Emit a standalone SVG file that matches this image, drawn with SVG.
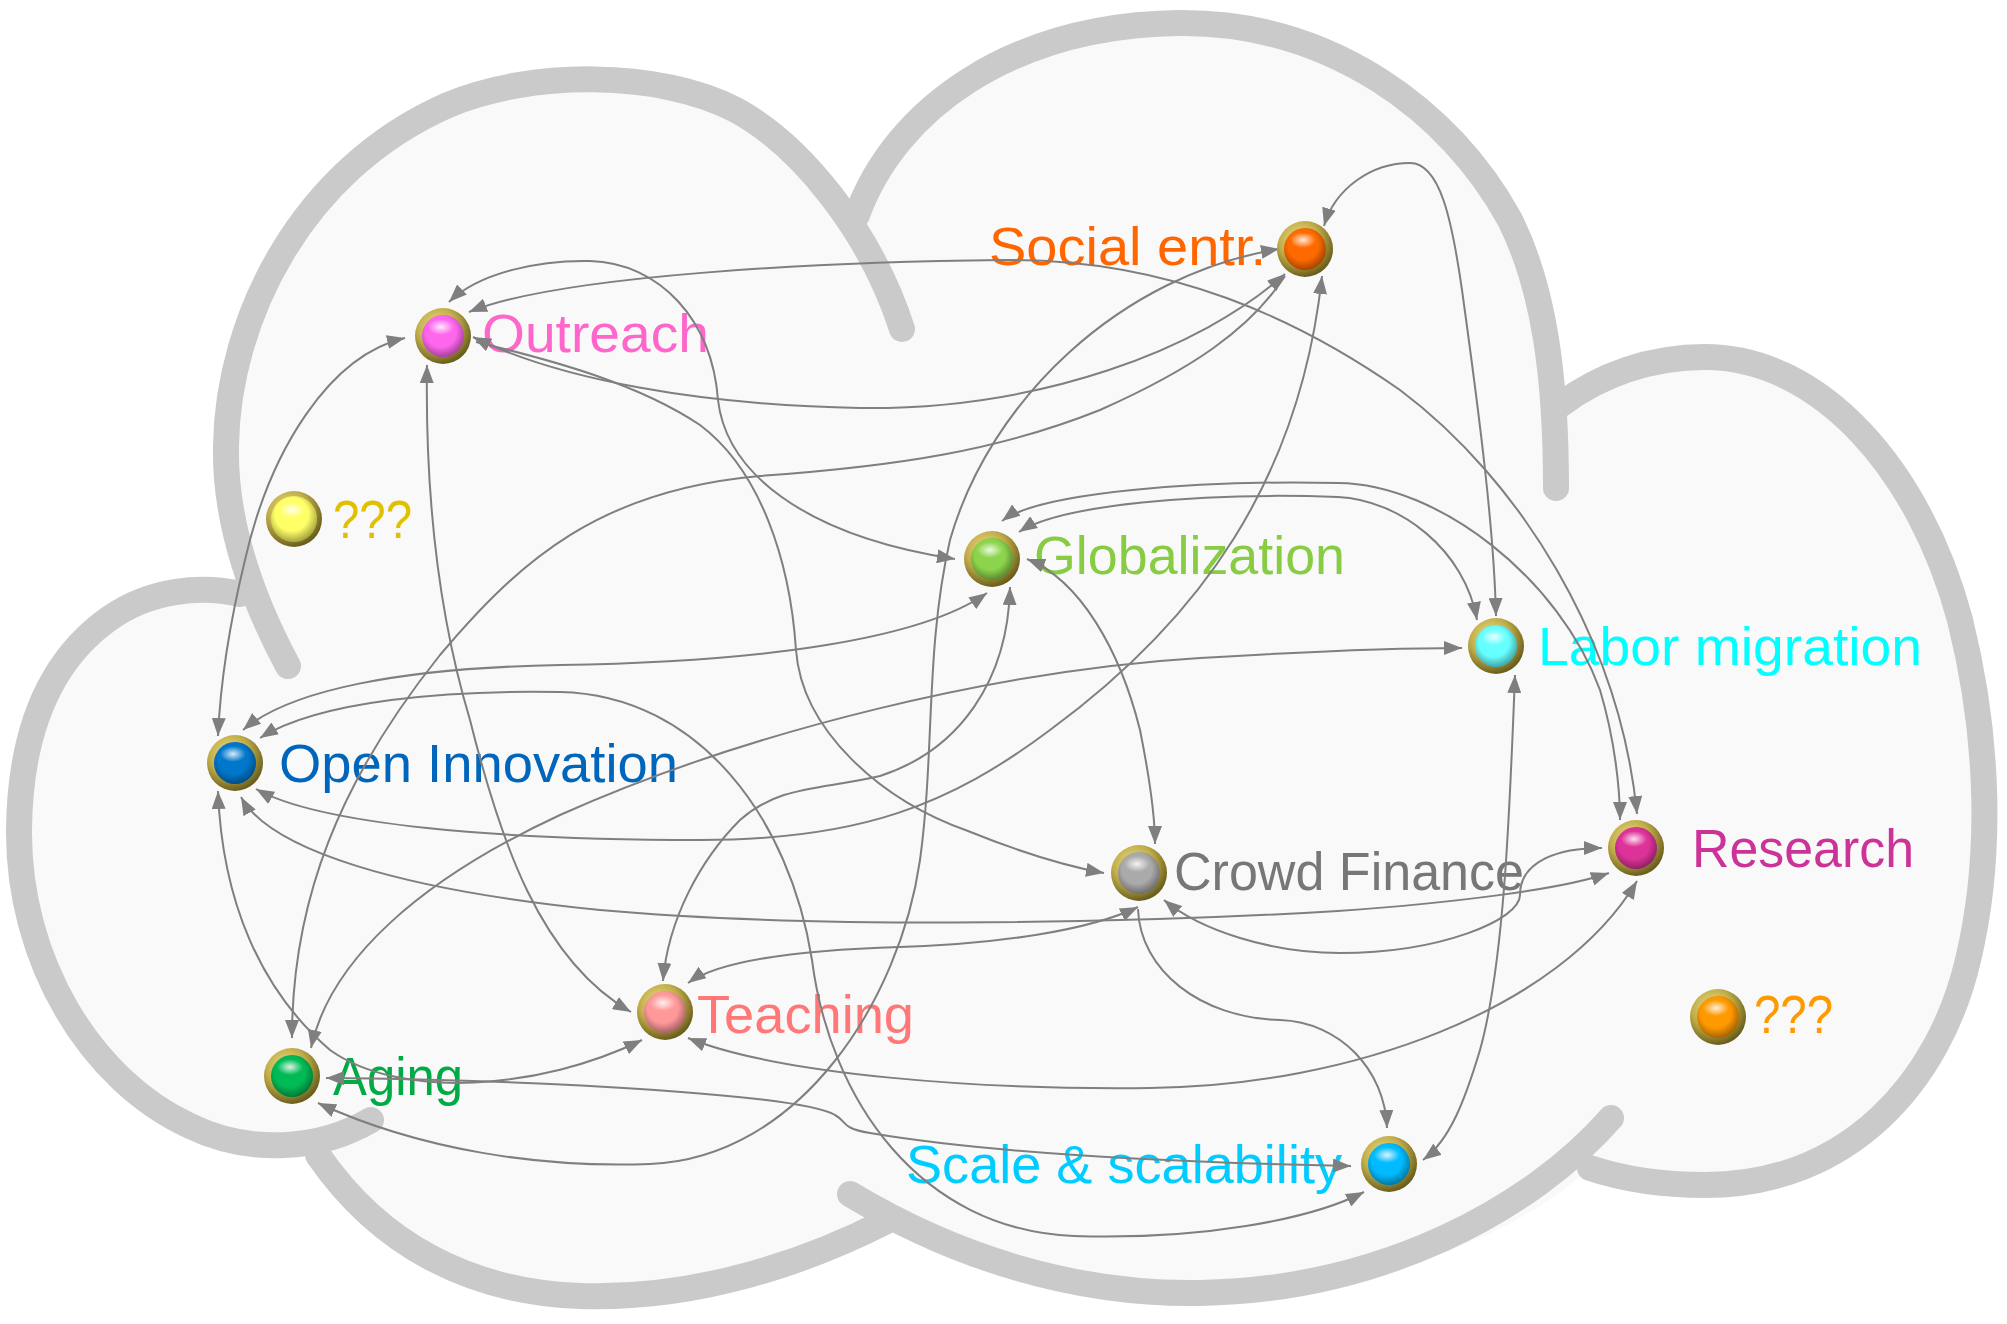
<svg xmlns="http://www.w3.org/2000/svg" width="2007" height="1324" viewBox="0 0 2007 1324">
<style>
.lobe{fill:none;stroke:#cacaca;stroke-width:26;stroke-linecap:round;stroke-linejoin:round}
.edge{fill:none;stroke:#7f7f7f;stroke-width:2}
.ring{fill:url(#ring)}
.shade{fill:url(#shade)}
.hl{fill:url(#hl)}
.lbl{font-family:"Liberation Sans",Arial,sans-serif;font-size:54px}
</style>
<defs>
<marker id="ah" viewBox="0 0 18 14" refX="18" refY="7" markerWidth="18" markerHeight="14" markerUnits="userSpaceOnUse" orient="auto-start-reverse"><path d="M0,0 L18,7 L0,14 z" fill="#7f7f7f"/></marker>
<radialGradient id="ring" cx="40%" cy="35%" r="65%"><stop offset="0" stop-color="#f0e38e"/><stop offset="0.55" stop-color="#c2ae4a"/><stop offset="1" stop-color="#6a5e1c"/></radialGradient>
<radialGradient id="shade" cx="45%" cy="40%" r="60%"><stop offset="0.6" stop-color="#000" stop-opacity="0"/><stop offset="1" stop-color="#000" stop-opacity="0.35"/></radialGradient>
<radialGradient id="hl" cx="50%" cy="50%" r="50%"><stop offset="0" stop-color="#fff" stop-opacity="0.85"/><stop offset="1" stop-color="#fff" stop-opacity="0"/></radialGradient>
</defs>
<rect width="2007" height="1324" fill="#ffffff"/>
<g id="cloud">
<path fill="#f9f9f9" d="M237,593 C 222,520 226,470 226,445 C 228,320 300,170 448,105 C 530,70 660,70 736,110 C 790,140 835,180 857,215 C 895,110 1010,25 1180,23 C 1330,22 1450,110 1510,220 C 1545,290 1556,360 1560,405 C 1600,375 1650,357 1705,357 C 1820,357 1920,470 1960,620 C 1990,740 1992,860 1968,960 C 1940,1080 1850,1185 1705,1185 C 1660,1185 1620,1178 1590,1168 C 1500,1250 1350,1293 1200,1293 C 1080,1295 960,1260 885,1222 C 810,1260 700,1300 580,1296 C 470,1292 380,1245 318,1155 C 280,1160 230,1150 190,1126 C 90,1080 18,960 19,830 C 20,730 50,660 110,618 C 150,590 200,585 237,593 Z"/>
<path class="lobe" d="M288,666 C 258,610 224,530 226,445 C 228,320 300,170 448,105 C 530,70 660,70 736,110 C 800,145 870,230 902,329"/>
<path class="lobe" d="M857,215 C 895,110 1010,25 1180,23 C 1330,22 1450,110 1510,220 C 1545,290 1556,380 1556,488"/>
<path class="lobe" d="M1560,405 C 1600,375 1650,357 1705,357 C 1820,357 1920,470 1960,620 C 1990,740 1992,860 1968,960 C 1940,1080 1850,1185 1705,1185 C 1660,1185 1620,1178 1590,1168"/>
<path class="lobe" d="M850,1194 C 960,1260 1080,1295 1200,1293 C 1380,1290 1530,1210 1611,1118"/>
<path class="lobe" d="M318,1155 C 380,1245 470,1292 580,1296 C 700,1300 810,1260 885,1222"/>
<path class="lobe" d="M240,594 C 200,585 150,590 110,618 C 50,660 20,730 19,830 C 18,960 90,1080 190,1126 C 250,1155 320,1150 371,1120"/>
</g>
<g id="labels">
<text class="lbl" x="989" y="265" fill="#ff6600" textLength="277" lengthAdjust="spacingAndGlyphs">Social entr.</text>
<text class="lbl" x="482" y="352" fill="#ff66cc" textLength="227" lengthAdjust="spacingAndGlyphs">Outreach</text>
<text class="lbl" x="333" y="538" fill="#e0c000" textLength="79" lengthAdjust="spacingAndGlyphs">???</text>
<text class="lbl" x="1034" y="574" fill="#88cc44" textLength="311" lengthAdjust="spacingAndGlyphs">Globalization</text>
<text class="lbl" x="1538" y="665" fill="#00ffff" textLength="384" lengthAdjust="spacingAndGlyphs">Labor migration</text>
<text class="lbl" x="279" y="782" fill="#0066bb" textLength="399" lengthAdjust="spacingAndGlyphs">Open Innovation</text>
<text class="lbl" x="1174" y="890" fill="#777777" textLength="350" lengthAdjust="spacingAndGlyphs">Crowd Finance</text>
<text class="lbl" x="1692" y="867" fill="#cc3399" textLength="222" lengthAdjust="spacingAndGlyphs">Research</text>
<text class="lbl" x="697" y="1033" fill="#ff7777" textLength="217" lengthAdjust="spacingAndGlyphs">Teaching</text>
<text class="lbl" x="333" y="1095" fill="#00aa44" textLength="130" lengthAdjust="spacingAndGlyphs">Aging</text>
<text class="lbl" x="906" y="1183" fill="#00ccff" textLength="436" lengthAdjust="spacingAndGlyphs">Scale &amp; scalability</text>
<text class="lbl" x="1754" y="1033" fill="#ff9900" textLength="79" lengthAdjust="spacingAndGlyphs">???</text>
</g>
<g id="connectors">
<path class="edge" marker-start="url(#ah)" marker-end="url(#ah)" d="M1324,226 C 1335,188 1372,163 1410,163 C 1440,163 1452,220 1462,290 C 1480,420 1494,530 1496,616"/>
<path class="edge" marker-start="url(#ah)" marker-end="url(#ah)" d="M469,312 C 560,275 820,262 1003,260 C 1170,258 1300,320 1400,390 C 1520,480 1620,640 1637,814"/>
<path class="edge" marker-start="url(#ah)" marker-end="url(#ah)" d="M449,302 C 480,272 540,260 590,261 C 660,263 712,320 718,400 C 726,470 800,535 955,559"/>
<path class="edge" marker-start="url(#ah)" marker-end="url(#ah)" d="M473,337 C 560,380 700,405 860,408 C 1040,410 1200,350 1285,274"/>
<path class="edge" marker-end="url(#ah)" d="M476,342 C 560,362 640,385 700,425 C 760,470 790,560 796,650 C 802,730 880,800 968,831 C 1010,848 1060,865 1104,873"/>
<path class="edge" marker-start="url(#ah)" marker-end="url(#ah)" d="M405,338 C 330,355 270,450 245,560 C 228,630 220,690 218,736"/>
<path class="edge" marker-start="url(#ah)" marker-end="url(#ah)" d="M427,365 C 425,500 440,620 470,720 C 500,840 540,960 631,1012"/>
<path class="edge" marker-start="url(#ah)" marker-end="url(#ah)" d="M243,730 C 290,690 400,668 560,665 C 760,662 920,640 987,593"/>
<path class="edge" marker-start="url(#ah)" marker-end="url(#ah)" d="M260,738 C 320,700 450,690 560,692 C 700,695 790,820 812,960 C 830,1100 920,1230 1074,1236 C 1200,1240 1310,1220 1364,1192"/>
<path class="edge" marker-start="url(#ah)" marker-end="url(#ah)" d="M256,789 C 320,825 500,840 700,840 C 860,840 950,805 1050,730 C 1200,620 1300,480 1322,276"/>
<path class="edge" marker-start="url(#ah)" marker-end="url(#ah)" d="M241,797 C 270,850 400,890 600,910 C 800,928 1100,925 1338,911 C 1450,903 1560,890 1609,873"/>
<path class="edge" marker-start="url(#ah)" marker-end="url(#ah)" d="M218,791 C 222,900 260,990 330,1050 C 400,1100 540,1090 642,1040"/>
<path class="edge" marker-start="url(#ah)" marker-end="url(#ah)" d="M326,1078 C 550,1080 800,1095 835,1115 C 848,1122 840,1128 870,1133 C 1000,1155 1200,1163 1351,1166"/>
<path class="edge" marker-start="url(#ah)" marker-end="url(#ah)" d="M318,1103 C 420,1150 540,1168 650,1164 C 800,1158 900,1000 920,860 C 935,750 925,650 950,540 C 990,400 1120,275 1279,249"/>
<path class="edge" marker-start="url(#ah)" d="M292,1038 C 292,900 340,780 440,655 C 520,560 600,490 760,476 C 900,466 1000,450 1100,410 C 1190,370 1250,330 1285,276"/>
<path class="edge" marker-start="url(#ah)" marker-end="url(#ah)" d="M311,1048 C 330,960 420,880 560,815 C 750,730 1000,670 1200,658 C 1300,652 1400,648 1462,648"/>
<path class="edge" marker-start="url(#ah)" marker-end="url(#ah)" d="M1019,532 C 1060,505 1200,492 1338,497 C 1400,500 1465,550 1477,620"/>
<path class="edge" marker-start="url(#ah)" marker-end="url(#ah)" d="M1002,521 C 1040,492 1200,480 1338,483 C 1440,484 1560,580 1600,690 C 1615,740 1620,790 1620,820"/>
<path class="edge" marker-start="url(#ah)" marker-end="url(#ah)" d="M1027,559 C 1080,580 1120,650 1140,730 C 1150,780 1155,820 1155,844"/>
<path class="edge" marker-start="url(#ah)" marker-end="url(#ah)" d="M1010,587 C 1008,680 960,750 880,776 C 820,790 780,785 740,820 C 700,860 668,920 663,981"/>
<path class="edge" marker-start="url(#ah)" marker-end="url(#ah)" d="M688,983 C 720,960 800,950 900,947 C 1000,944 1090,930 1138,907"/>
<path class="edge" marker-start="url(#ah)" marker-end="url(#ah)" d="M688,1038 C 780,1075 980,1090 1150,1088 C 1350,1086 1560,1010 1637,881"/>
<path class="edge" marker-start="url(#ah)" marker-end="url(#ah)" d="M1164,900 C 1200,930 1270,953 1340,953 C 1440,953 1520,920 1520,895 C 1520,860 1560,848 1602,848"/>
<path class="edge" marker-end="url(#ah)" d="M1138,909 C 1140,970 1200,1018 1280,1020 C 1340,1022 1385,1070 1387,1128"/>
<path class="edge" marker-start="url(#ah)" marker-end="url(#ah)" d="M1515,675 C 1510,800 1505,960 1480,1050 C 1465,1100 1450,1140 1423,1160"/>
</g>
<g id="node-social" transform="translate(1305,249)"><circle class="ring" r="28"/><circle r="21" fill="#ff6a00"/><circle class="shade" r="21"/><ellipse class="hl" cx="-2" cy="-9" rx="13" ry="8"/></g>
<g id="node-outreach" transform="translate(443,336)"><circle class="ring" r="28"/><circle r="21" fill="#ff66ee"/><circle class="shade" r="21"/><ellipse class="hl" cx="-2" cy="-9" rx="13" ry="8"/></g>
<g id="node-unknown1" transform="translate(294,519)"><circle class="ring" r="28"/><circle r="23" fill="#ffff66"/><circle class="shade" r="23"/><ellipse class="hl" cx="-2" cy="-9" rx="13" ry="8"/></g>
<g id="node-globalization" transform="translate(992,559)"><circle class="ring" r="28"/><circle r="21" fill="#8cd44c"/><circle class="shade" r="21"/><ellipse class="hl" cx="-2" cy="-9" rx="13" ry="8"/></g>
<g id="node-labor" transform="translate(1496,646)"><circle class="ring" r="28"/><circle r="21" fill="#66ffff"/><circle class="shade" r="21"/><ellipse class="hl" cx="-2" cy="-9" rx="13" ry="8"/></g>
<g id="node-openinnovation" transform="translate(235,763)"><circle class="ring" r="28"/><circle r="21" fill="#0077cc"/><circle class="shade" r="21"/><ellipse class="hl" cx="-2" cy="-9" rx="13" ry="8"/></g>
<g id="node-crowd" transform="translate(1139,873)"><circle class="ring" r="28"/><circle r="21" fill="#aaaaaa"/><circle class="shade" r="21"/><ellipse class="hl" cx="-2" cy="-9" rx="13" ry="8"/></g>
<g id="node-research" transform="translate(1636,848)"><circle class="ring" r="28"/><circle r="21" fill="#dd3399"/><circle class="shade" r="21"/><ellipse class="hl" cx="-2" cy="-9" rx="13" ry="8"/></g>
<g id="node-teaching" transform="translate(665,1012)"><circle class="ring" r="28"/><circle r="21" fill="#ff9999"/><circle class="shade" r="21"/><ellipse class="hl" cx="-2" cy="-9" rx="13" ry="8"/></g>
<g id="node-aging" transform="translate(292,1076)"><circle class="ring" r="28"/><circle r="21" fill="#00bb55"/><circle class="shade" r="21"/><ellipse class="hl" cx="-2" cy="-9" rx="13" ry="8"/></g>
<g id="node-scale" transform="translate(1389,1164)"><circle class="ring" r="28"/><circle r="21" fill="#00bbff"/><circle class="shade" r="21"/><ellipse class="hl" cx="-2" cy="-9" rx="13" ry="8"/></g>
<g id="node-unknown2" transform="translate(1718,1017)"><circle class="ring" r="28"/><circle r="21" fill="#ff9900"/><circle class="shade" r="21"/><ellipse class="hl" cx="-2" cy="-9" rx="13" ry="8"/></g>
</svg>
